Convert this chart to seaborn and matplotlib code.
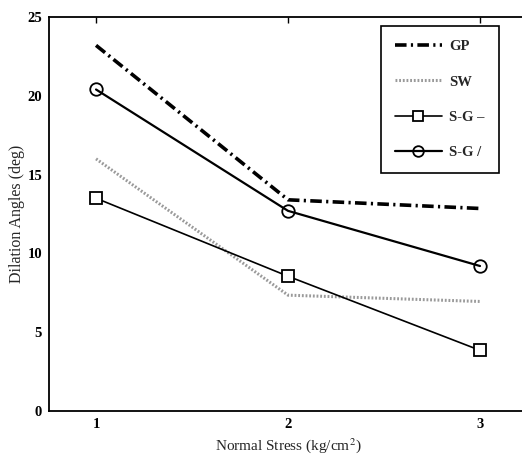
import seaborn as sns
import matplotlib.pyplot as plt
import pandas as pd

# Values
stress = [1, 2, 3]
gp = [23.2, 13.4, 12.85]
sw = [16.0, 7.35, 6.95]
sg_dash = [13.5, 8.55, 3.85]
sg_slash = [20.4, 12.7, 9.2]
series_names = ['GP', 'SW', 'S-G \u2013', 'S-G /']

df = pd.DataFrame({
    'stress': stress * 4,
    'angle': gp + sw + sg_dash + sg_slash,
    'series': [n for n in series_names for _ in stress],
})

sns.set_style("white")
plt.rcParams['font.family'] = ['Liberation Serif', 'DejaVu Serif']
plt.rcParams['mathtext.fontset'] = 'stix'

fig = plt.figure(figsize=(5.22, 4.58), dpi=100)
# axes run slightly past the right edge, as in the cropped original
ax = fig.add_axes([49 / 522, 47 / 458, 479 / 522, 394 / 458])

styles = {
    'GP': dict(color='black', linestyle=(0, (3.2, 1.2, 0.6, 1.2)), linewidth=2.6, marker=None),
    'SW': dict(color='#9a9a9a', linestyle=(0, (0.6, 0.6)), linewidth=2.2, marker=None),
    'S-G \u2013': dict(color='black', linestyle='-', linewidth=1.2, marker='s',
                       markersize=8.5, markerfacecolor='white', markeredgecolor='black',
                       markeredgewidth=1.3),
    'S-G /': dict(color='black', linestyle='-', linewidth=1.6, marker='o',
                  markersize=9, markerfacecolor='none', markeredgecolor='black',
                  markeredgewidth=1.3),
}

for name in series_names:
    sub = df[df['series'] == name]
    sns.lineplot(data=sub, x='stress', y='angle', ax=ax, label=name, **styles[name])

ax.set_xlim(0.755, 3.25)
ax.set_ylim(0, 25)
ax.set_xticks([1, 2, 3])
ax.set_yticks([0, 5, 10, 15, 20, 25])
ax.tick_params(direction='in', length=4, width=1, top=True, right=True,
               labelsize=10.5, pad=5, colors='black')
for lbl in ax.get_xticklabels() + ax.get_yticklabels():
    lbl.set_fontweight('bold')

for sp in ax.spines.values():
    sp.set_linewidth(1.3)
    sp.set_color('black')

ax.set_xlabel('Normal Stress (kg/cm$^2$)', fontsize=11, labelpad=4)
ax.set_ylabel('Dilation Angles (deg)', fontsize=11.5, labelpad=2)

leg = ax.legend(loc='upper right', bbox_to_anchor=(0.9395, 0.978), borderaxespad=0,
                fancybox=False, edgecolor='black', framealpha=1,
                prop={'weight': 'bold', 'size': 10.5},
                handlelength=3.2, handletextpad=0.5, labelspacing=1.5,
                borderpad=1.0, markerscale=0.85)
leg.get_frame().set_linewidth(1.2)

fig.savefig('out.png', dpi=100)
